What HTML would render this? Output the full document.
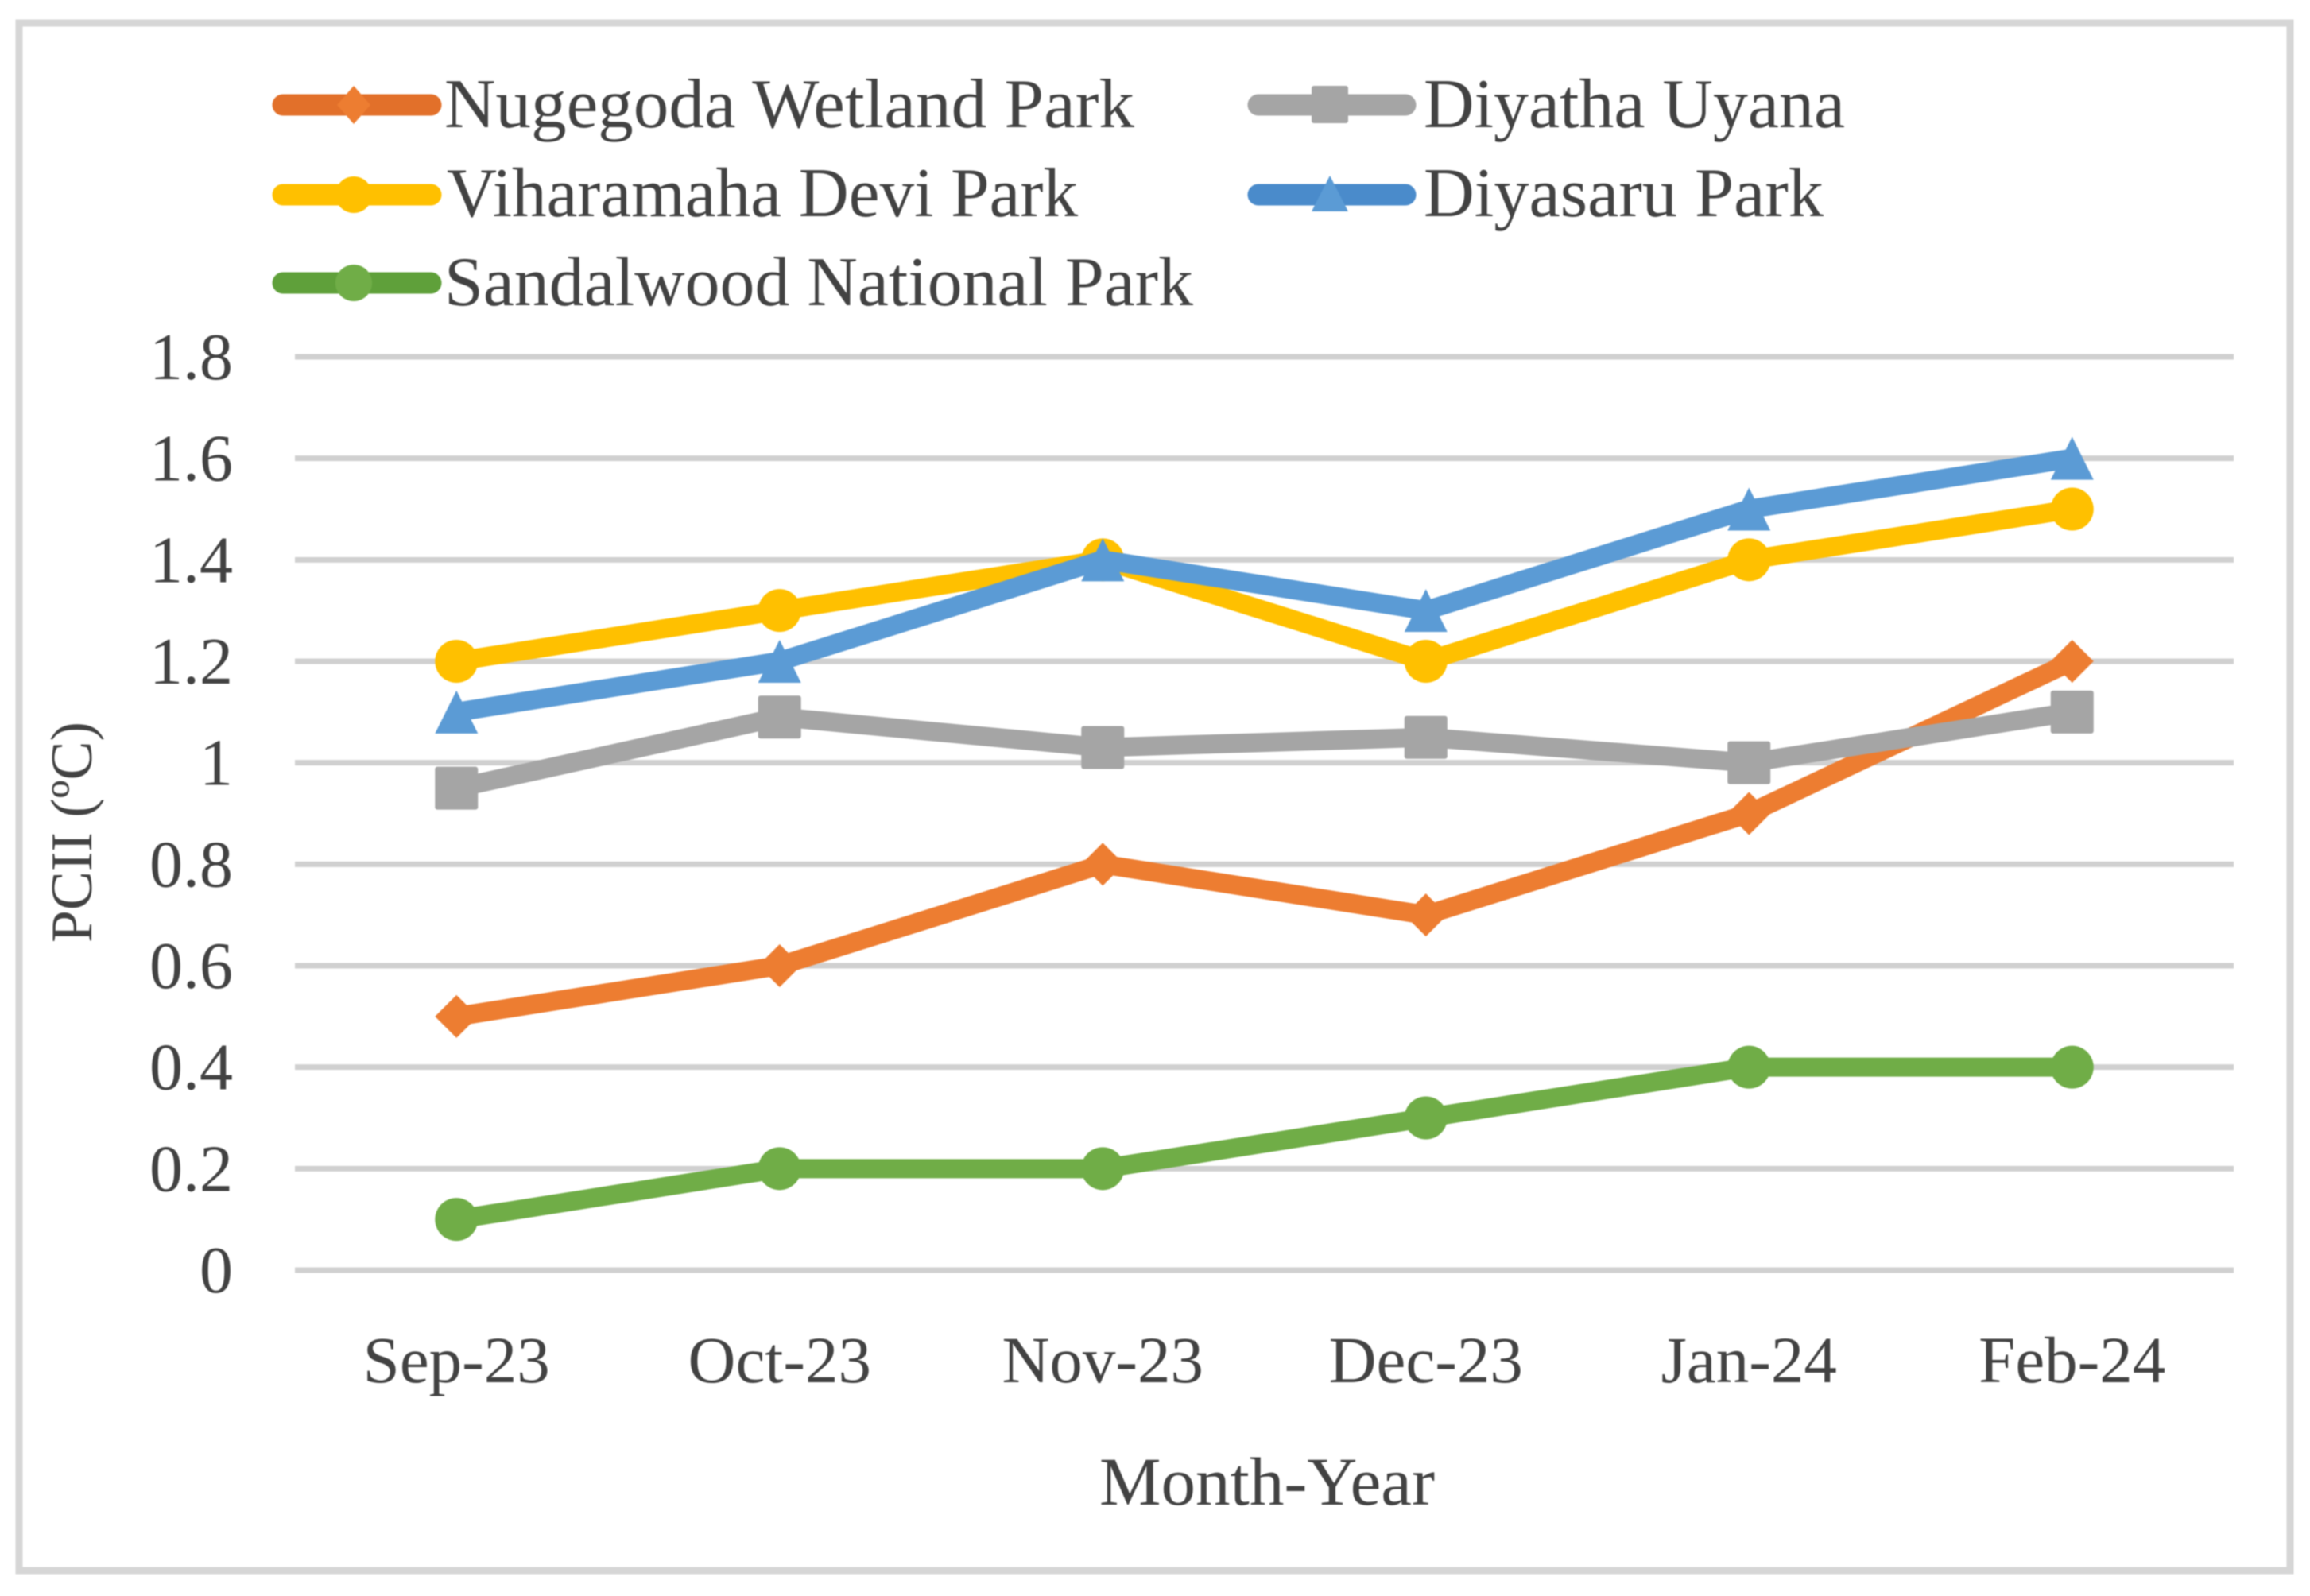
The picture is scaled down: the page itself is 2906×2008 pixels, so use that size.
<!DOCTYPE html>
<html lang="en">
<head>
<meta charset="utf-8">
<title>PCII by Month-Year</title>
<style>
html,body{margin:0;padding:0;background:#fff;width:2906px;height:2008px;overflow:hidden}
svg{display:block;filter:blur(0.8px)}
text{font-family:"Liberation Serif",serif;fill:#424242}
</style>
</head>
<body>
<svg id="chart" xmlns="http://www.w3.org/2000/svg" width="2906" height="2008" viewBox="0 0 2906 2008">
  <rect x="24" y="29" width="2857" height="1947" fill="#fff" stroke="#d6d6d6" stroke-width="9"/>
  <g id="grid"></g>
  <g id="yticks" font-size="84" text-anchor="end"></g>
  <g id="xticks" font-size="83" text-anchor="middle"></g>
  <g id="series"></g>
  <text font-size="74" text-anchor="middle" textLength="278" lengthAdjust="spacingAndGlyphs" transform="translate(115 1047) rotate(-90)">PCII (ºC)</text>
  <text x="1594" y="1893" font-size="86" text-anchor="middle" textLength="422" lengthAdjust="spacingAndGlyphs">Month-Year</text>
  <g id="legend">
    <g>
      <line x1="356" y1="132" x2="542" y2="132" stroke="#E2702A" stroke-width="27" stroke-linecap="round"/>
      <polygon points="445,108 466,132 445,156 424,132" fill="#ED7D31"/>
      <text x="559" y="160" font-size="88" textLength="868" lengthAdjust="spacingAndGlyphs">Nugegoda Wetland Park</text>
    </g>
    <g>
      <line x1="356" y1="245" x2="542" y2="245" stroke="#FFC000" stroke-width="27" stroke-linecap="round"/>
      <circle cx="445" cy="245" r="23" fill="#FFC000"/>
      <text x="562" y="272" font-size="88" textLength="794" lengthAdjust="spacingAndGlyphs">Viharamaha Devi Park</text>
    </g>
    <g>
      <line x1="356" y1="356" x2="542" y2="356" stroke="#5FA03A" stroke-width="27" stroke-linecap="round"/>
      <circle cx="445" cy="356" r="23" fill="#70AD47"/>
      <text x="559" y="384" font-size="88" textLength="942" lengthAdjust="spacingAndGlyphs">Sandalwood National Park</text>
    </g>
    <g>
      <line x1="1583" y1="132" x2="1768" y2="132" stroke="#A5A5A5" stroke-width="27" stroke-linecap="round"/>
      <rect x="1650" y="108" width="46" height="47" rx="3" fill="#A5A5A5"/>
      <text x="1791" y="160" font-size="88" textLength="530" lengthAdjust="spacingAndGlyphs">Diyatha Uyana</text>
    </g>
    <g>
      <line x1="1583" y1="245" x2="1768" y2="245" stroke="#4A8BCB" stroke-width="27" stroke-linecap="round"/>
      <polygon points="1673,221 1696,266 1650,266" fill="#5B9BD5"/>
      <text x="1791" y="272" font-size="88" textLength="503" lengthAdjust="spacingAndGlyphs">Diyasaru Park</text>
    </g>
  </g>
</svg>
<script>
const categories = ["Sep-23", "Oct-23", "Nov-23", "Dec-23", "Jan-24", "Feb-24"];
const yTickValues = [0, 0.2, 0.4, 0.6, 0.8, 1, 1.2, 1.4, 1.6, 1.8];
const yTickLabels = ["0", "0.2", "0.4", "0.6", "0.8", "1", "1.2", "1.4", "1.6", "1.8"];
const nugegodaValues = [0.5, 0.6, 0.8, 0.7, 0.9, 1.2];
const viharamahaValues = [1.2, 1.3, 1.4, 1.2, 1.4, 1.5];
const sandalwoodValues = [0.1, 0.2, 0.2, 0.3, 0.4, 0.4];
const diyathaValues = [0.95, 1.09, 1.03, 1.05, 1.0, 1.1];
const diyasaruValues = [1.1, 1.2, 1.4, 1.3, 1.5, 1.6];

const NS = "http://www.w3.org/2000/svg";
const plotLeft = 371, plotRight = 2810, plotTop = 449, plotBottom = 1598, yMax = 1.8;
function xPos(i) { return plotLeft + (plotRight - plotLeft) * (i + 0.5) / categories.length; }
function yPos(v) { return plotBottom - (plotBottom - plotTop) * v / yMax; }
function make(tag, attrs, parent) {
  const el = document.createElementNS(NS, tag);
  for (const k in attrs) el.setAttribute(k, attrs[k]);
  parent.appendChild(el);
  return el;
}
const gridG = document.getElementById("grid");
const yG = document.getElementById("yticks");
const xG = document.getElementById("xticks");
const seriesG = document.getElementById("series");

yTickValues.forEach(function (v, i) {
  const line = make("line", { x1: plotLeft, x2: plotRight, y1: yPos(v), y2: yPos(v), stroke: "#d0d0d0", "stroke-width": 7 }, gridG);
  
  
  const t = make("text", { x: 293, y: yPos(v) + 28 }, yG);
  t.textContent = yTickLabels[i];
  
  
});
categories.forEach(function (c, i) {
  const t = make("text", { x: xPos(i), y: 1739 }, xG);
  t.textContent = c;
  
  
});

function drawMarker(shape, x, y, color, parent) {
  const r = 27;
  let m;
  if (shape === "diamond") {
    m = make("polygon", { points: [x, y - r, x + r, y, x, y + r, x - r, y].join(" "), fill: color }, parent);
  } else if (shape === "circle") {
    m = make("circle", { cx: x, cy: y, r: r, fill: color }, parent);
  } else if (shape === "square") {
    m = make("rect", { x: x - r, y: y - r, width: 2 * r, height: 2 * r, rx: 3, fill: color }, parent);
  } else {
    m = make("polygon", { points: [x, y - r, x + r, y + r, x - r, y + r].join(" "), fill: color }, parent);
  }
  return m;
}
function drawSeries(name, values, color, shape) {
  const g = make("g", {}, seriesG);
  
  
  const pts = values.map(function (v, i) { return xPos(i) + "," + yPos(v); }).join(" ");
  const line = make("polyline", { points: pts, fill: "none", stroke: color, "stroke-width": 24, "stroke-linejoin": "round" }, g);
  
  
  values.forEach(function (v, i) {
    const m = drawMarker(shape, xPos(i), yPos(v), color, g);
    
    
  });
}
drawSeries("nugegoda", nugegodaValues, "#ED7D31", "diamond");
drawSeries("viharamaha", viharamahaValues, "#FFC000", "circle");
drawSeries("sandalwood", sandalwoodValues, "#70AD47", "circle");
drawSeries("diyatha", diyathaValues, "#A5A5A5", "square");
drawSeries("diyasaru", diyasaruValues, "#5B9BD5", "triangle");
</script>
</body>
</html>
